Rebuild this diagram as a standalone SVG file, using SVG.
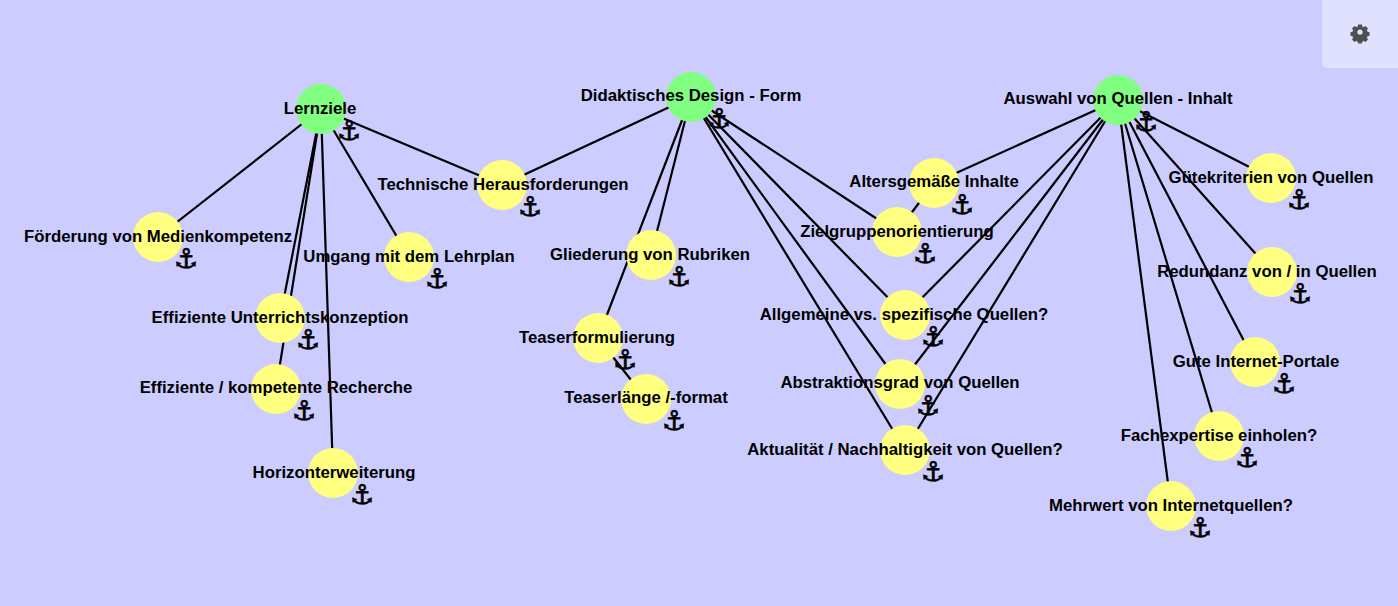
<svg xmlns="http://www.w3.org/2000/svg" width="1398" height="606" viewBox="0 0 1398 606">
<style>
.e{stroke:#000;stroke-width:2.2;fill:none}
.g{fill:#80ff80}.y{fill:#ffff80}
.t{font:bold 16.75px "Liberation Sans",Arial,sans-serif;text-anchor:middle;fill:#000}
.a{font:27px "DejaVu Sans",sans-serif;text-anchor:middle;fill:#000;stroke:#000;stroke-width:.7}
</style>
<rect width="1398" height="606" fill="#ccccff"/>
<g id="connectors">
<line class="e" x1="321" y1="109" x2="158" y2="237"/>
<line class="e" x1="321" y1="109" x2="409" y2="257"/>
<line class="e" x1="321" y1="109" x2="280" y2="318"/>
<line class="e" x1="321" y1="109" x2="276" y2="389"/>
<line class="e" x1="321" y1="109" x2="333" y2="473"/>
<line class="e" x1="321" y1="109" x2="502" y2="185"/>
<line class="e" x1="691" y1="97" x2="502" y2="185"/>
<line class="e" x1="691" y1="97" x2="651" y2="255"/>
<line class="e" x1="691" y1="97" x2="598" y2="338"/>
<line class="e" x1="598" y1="338" x2="646" y2="399"/>
<line class="e" x1="691" y1="97" x2="897" y2="232"/>
<line class="e" x1="691" y1="97" x2="905" y2="315"/>
<line class="e" x1="691" y1="97" x2="900" y2="384"/>
<line class="e" x1="691" y1="97" x2="905" y2="450"/>
<line class="e" x1="1118" y1="100" x2="934" y2="183"/>
<line class="e" x1="934" y1="183" x2="897" y2="232"/>
<line class="e" x1="1118" y1="100" x2="905" y2="315"/>
<line class="e" x1="1118" y1="100" x2="900" y2="384"/>
<line class="e" x1="1118" y1="100" x2="905" y2="450"/>
<line class="e" x1="1118" y1="100" x2="1271" y2="178"/>
<line class="e" x1="1118" y1="100" x2="1272" y2="272"/>
<line class="e" x1="1118" y1="100" x2="1255" y2="362"/>
<line class="e" x1="1118" y1="100" x2="1219" y2="436"/>
<line class="e" x1="1118" y1="100" x2="1171" y2="506"/>
</g>
<g id="n1"><circle class="g" cx="321" cy="109" r="25"/><text class="t" x="320" y="114">Lernziele</text><text class="a" x="349" y="140">⚓</text></g>
<g id="n2"><circle class="g" cx="691" cy="97" r="25"/><text class="t" x="691" y="101">Didaktisches Design - Form</text><text class="a" x="719" y="128">⚓</text></g>
<g id="n3"><circle class="g" cx="1118" cy="100" r="25"/><text class="t" x="1118" y="104">Auswahl von Quellen - Inhalt</text><text class="a" x="1146" y="131">⚓</text></g>
<g id="n4"><circle class="y" cx="158" cy="237" r="25"/><text class="t" x="158" y="242">Förderung von Medienkompetenz</text><text class="a" x="186" y="268">⚓</text></g>
<g id="n5"><circle class="y" cx="409" cy="257" r="25"/><text class="t" x="409" y="262">Umgang mit dem Lehrplan</text><text class="a" x="437" y="288">⚓</text></g>
<g id="n6"><circle class="y" cx="280" cy="318" r="25"/><text class="t" x="280" y="323">Effiziente Unterrichtskonzeption</text><text class="a" x="308" y="349">⚓</text></g>
<g id="n7"><circle class="y" cx="276" cy="389" r="25"/><text class="t" x="276" y="393">Effiziente / kompetente Recherche</text><text class="a" x="304" y="420">⚓</text></g>
<g id="n8"><circle class="y" cx="333" cy="473" r="25"/><text class="t" x="334" y="478">Horizonterweiterung</text><text class="a" x="362" y="504">⚓</text></g>
<g id="n9"><circle class="y" cx="502" cy="185" r="25"/><text class="t" x="503" y="190">Technische Herausforderungen</text><text class="a" x="530" y="216">⚓</text></g>
<g id="n10"><circle class="y" cx="651" cy="255" r="25"/><text class="t" x="650" y="260">Gliederung von Rubriken</text><text class="a" x="679" y="286">⚓</text></g>
<g id="n11"><circle class="y" cx="598" cy="338" r="25"/><text class="t" x="597" y="343">Teaserformulierung</text><text class="a" x="625" y="369">⚓</text></g>
<g id="n12"><circle class="y" cx="646" cy="399" r="25"/><text class="t" x="646" y="403">Teaserlänge /-format</text><text class="a" x="674" y="430">⚓</text></g>
<g id="n13"><circle class="y" cx="934" cy="183" r="25"/><text class="t" x="934" y="187">Altersgemäße Inhalte</text><text class="a" x="962" y="214">⚓</text></g>
<g id="n14"><circle class="y" cx="897" cy="232" r="25"/><text class="t" x="897" y="237">Zielgruppenorientierung</text><text class="a" x="925" y="263">⚓</text></g>
<g id="n15"><circle class="y" cx="905" cy="315" r="25"/><text class="t" x="904" y="320">Allgemeine vs. spezifische Quellen?</text><text class="a" x="933" y="346">⚓</text></g>
<g id="n16"><circle class="y" cx="900" cy="384" r="25"/><text class="t" x="900" y="388">Abstraktionsgrad von Quellen</text><text class="a" x="928" y="415">⚓</text></g>
<g id="n17"><circle class="y" cx="905" cy="450" r="25"/><text class="t" x="905" y="455">Aktualität / Nachhaltigkeit von Quellen?</text><text class="a" x="933" y="481">⚓</text></g>
<g id="n18"><circle class="y" cx="1271" cy="178" r="25"/><text class="t" x="1271" y="183">Gütekriterien von Quellen</text><text class="a" x="1299" y="209">⚓</text></g>
<g id="n19"><circle class="y" cx="1272" cy="272" r="25"/><text class="t" x="1267" y="277">Redundanz von / in Quellen</text><text class="a" x="1300" y="303">⚓</text></g>
<g id="n20"><circle class="y" cx="1255" cy="362" r="25"/><text class="t" x="1256" y="367">Gute Internet-Portale</text><text class="a" x="1284" y="393">⚓</text></g>
<g id="n21"><circle class="y" cx="1219" cy="436" r="25"/><text class="t" x="1219" y="441">Fachexpertise einholen?</text><text class="a" x="1247" y="467">⚓</text></g>
<g id="n22"><circle class="y" cx="1171" cy="506" r="25"/><text class="t" x="1171" y="511">Mehrwert von Internetquellen?</text><text class="a" x="1200" y="537">⚓</text></g>
<g id="settings"><path d="M1322 0H1398V68H1327a5 5 0 0 1-5-5Z" fill="#e0e0ff"/>
<path transform="translate(1360 34) scale(.76) translate(-1360 -37)" fill="#505050" fill-rule="evenodd" d="M1357.500 24.500h5l.6 2.600 1.900.8 2.300-1.400 3.200 3.200-1.400 2.300.8 1.900 2.600.6v5l-2.600.6-.8 1.900 1.400 2.300-3.200 3.200-2.300-1.400-1.900.8-.6 2.600h-5l-.6-2.600-1.900-.8-2.300 1.400-3.200-3.200 1.400-2.300-.8-1.900-2.600-.6v-5l2.600-.6.800-1.900-1.400-2.300 3.200-3.200 2.300 1.400 1.900-.8Zm2.500 6.500a3.500 3.500 0 1 0 0 7 3.500 3.500 0 1 0 0-7Z"/></g>
</svg>
